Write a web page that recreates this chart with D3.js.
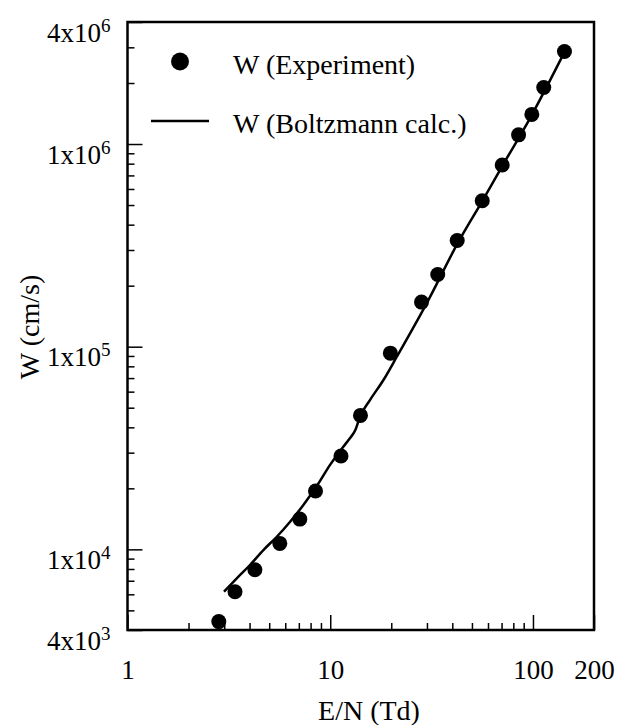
<!DOCTYPE html>
<html>
<head>
<meta charset="utf-8">
<script src="https://cdn.jsdelivr.net/npm/d3@7"></script>
<style>
  body { margin: 0; background: #fff; }
  svg { display: block; font-family: "Liberation Serif", "Times New Roman", serif; }
</style>
</head>
<body>
<div id="chart"></div>
<script>
// experiment points (E/N in Td, W in cm/s)
var expEN = [2.82, 3.39, 4.25, 5.64, 7.08, 8.46, 11.3, 14.1, 19.8, 28.2, 33.9, 42.3, 56.2, 70.5, 84.9, 98.7, 113, 143];
var expW = [4.4e3, 6.18e3, 7.93e3, 1.07e4, 1.41e4, 1.94e4, 2.89e4, 4.58e4, 9.29e4, 1.66e5, 2.27e5, 3.34e5, 5.25e5, 7.88e5, 1.11e6, 1.40e6, 1.90e6, 2.86e6];

// Boltzmann calculation curve
var calcEN = [2.99, 3.46, 4.02, 4.68, 5.45, 6.34, 7.37, 8.71, 9.98, 11.6, 12.5, 13.3, 14.0, 15.7, 18.3, 21.3, 29.9, 42.6, 56.6, 71.0, 96.8, 144];
var calcW = [6.18e3, 7.20e3, 8.37e3, 9.92e3, 1.154e4, 1.369e4, 1.655e4, 2.10e4, 2.61e4, 3.21e4, 3.53e4, 3.88e4, 4.50e4, 5.45e4, 6.85e4, 8.92e4, 1.636e5, 3.25e5, 5.29e5, 7.87e5, 1.343e6, 2.88e6];

var xTicks = [1, 10, 100, 200];
var xTickLabels = ['1', '10', '100', '200'];
var xMinor = [2, 3, 4, 5, 6, 7, 8, 9, 20, 30, 40, 50, 60, 70, 80, 90];
var yTicks = [4e3, 1e4, 1e5, 1e6, 4e6];
var yTickMant = ['4', '1', '1', '1', '4'];
var yTickExp = ['3', '4', '5', '6', '6'];
var yMinor = [5e3, 6e3, 7e3, 8e3, 9e3, 2e4, 3e4, 4e4, 5e4, 6e4, 7e4, 8e4, 9e4,
	2e5, 3e5, 4e5, 5e5, 6e5, 7e5, 8e5, 9e5, 2e6, 3e6];

var legendNames = ['W (Experiment)', 'W (Boltzmann calc.)'];

var W = 619, H = 725;
var margin = {top: 22, right: 25, bottom: 95, left: 127.5};
var width = W - margin.left - margin.right;
var height = H - margin.top - margin.bottom;

var x = d3.scaleLog().domain([1, 200]).range([0, width]);
var y = d3.scaleLog().domain([4e3, 4e6]).range([height, 0]);

var svg = d3.select('#chart')
	.append('svg')
	.attr('width', W)
	.attr('height', H);

svg.append('rect').attr('width', W).attr('height', H).attr('fill', '#fff');

var g = svg.append('g')
	.attr('transform', 'translate(' + margin.left + ',' + margin.top + ')');

// minor ticks
g.append('g')
	.attr('transform', 'translate(0,' + height + ')')
	.call(d3.axisBottom(x).tickValues(xMinor).tickSize(-7).tickFormat(''))
	.call(function (a) { a.select('.domain').remove(); });
g.append('g')
	.call(d3.axisLeft(y).tickValues(yMinor).tickSize(-7).tickFormat(''))
	.call(function (a) { a.select('.domain').remove(); });

// major ticks + labels
var xAxis = g.append('g')
	.attr('transform', 'translate(0,' + height + ')')
	.call(d3.axisBottom(x).tickValues(xTicks).tickSize(-15)
		.tickFormat(function (d, i) { return xTickLabels[i]; }));
xAxis.select('.domain').remove();
xAxis.selectAll('text')
	.attr('y', 49)
	.attr('dy', 0)
	.style('font-size', '27px')
	.style('font-family', '"Liberation Serif", "Times New Roman", serif')
	.attr('fill', '#000');

var yAxis = g.append('g')
	.call(d3.axisLeft(y).tickValues(yTicks).tickSize(-15).tickFormat(''));
yAxis.select('.domain').remove();
yAxis.selectAll('.tick').each(function (d, i) {
	var t = d3.select(this).select('text')
		.attr('x', -17)
		.attr('dy', 0)
		.attr('y', 19)
		.attr('text-anchor', 'end')
		.style('font-size', '27px')
		.style('font-family', '"Liberation Serif", "Times New Roman", serif')
		.attr('fill', '#000');
	t.append('tspan').text(yTickMant[i] + 'x10');
	t.append('tspan').text(yTickExp[i])
		.attr('dy', -10)
		.style('font-size', '19px');
});

g.selectAll('.tick line').attr('stroke', '#000').attr('stroke-width', 1.5);

// frame
g.append('rect')
	.attr('width', width)
	.attr('height', height)
	.attr('fill', 'none')
	.attr('stroke', '#000')
	.attr('stroke-width', 2.5);

// calc line
var line = d3.line()
	.x(function (d) { return x(d[0]); })
	.y(function (d) { return y(d[1]); })
	.curve(d3.curveMonotoneX);

g.append('path')
	.datum(calcEN.map(function (e, i) { return [e, calcW[i]]; }))
	.attr('d', line)
	.attr('fill', 'none')
	.attr('stroke', '#000')
	.attr('stroke-width', 2.5);

// experiment markers
g.selectAll('circle.exp')
	.data(expEN.map(function (e, i) { return [e, expW[i]]; }))
	.enter()
	.append('circle')
	.attr('class', 'exp')
	.attr('cx', function (d) { return x(d[0]); })
	.attr('cy', function (d) { return y(d[1]); })
	.attr('r', 7.5)
	.attr('fill', '#000');

// legend
svg.append('circle').attr('cx', 180).attr('cy', 61.5).attr('r', 9).attr('fill', '#000');
svg.append('text').attr('x', 233).attr('y', 74)
	.style('font-size', '28px').text(legendNames[0]);
svg.append('line').attr('x1', 151).attr('x2', 209).attr('y1', 121).attr('y2', 121)
	.attr('stroke', '#000').attr('stroke-width', 2.5);
svg.append('text').attr('x', 233).attr('y', 133)
	.style('font-size', '28px').text(legendNames[1]);

// axis titles
svg.append('text')
	.attr('x', 369)
	.attr('y', 720)
	.attr('text-anchor', 'middle')
	.style('font-size', '28px')
	.text('E/N (Td)');

svg.append('text')
	.attr('transform', 'translate(39,327) rotate(-90)')
	.attr('text-anchor', 'middle')
	.style('font-size', '28px')
	.text('W (cm/s)');
</script>
</body>
</html>
